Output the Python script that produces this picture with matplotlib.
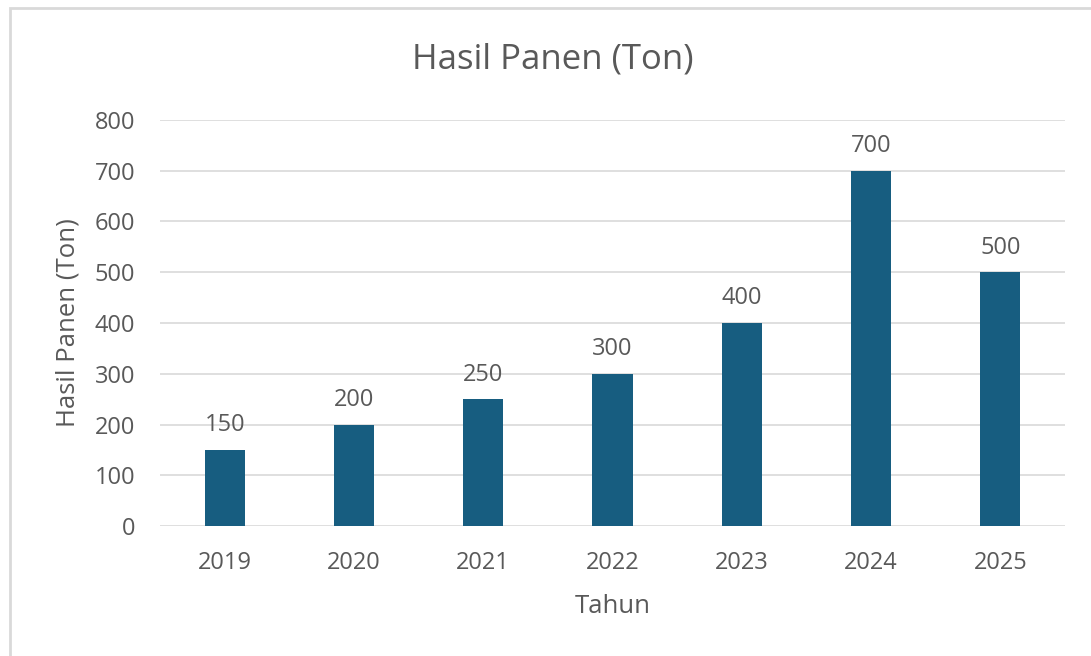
import matplotlib
matplotlib.use("Agg")
import matplotlib.pyplot as plt
from matplotlib.patches import Rectangle

years = ["2019", "2020", "2021", "2022", "2023", "2024", "2025"]
values = [150, 200, 250, 300, 400, 700, 500]
yticks = [0, 100, 200, 300, 400, 500, 600, 700, 800]

plt.rcParams['font.family'] = ['Open Sans', 'DejaVu Sans']
txt = '#595959'
bar_color = '#175d80'

fig = plt.figure(figsize=(10.91, 6.56), dpi=100)
fig.patches.append(Rectangle((10/1091, -0.01), 1.0, 1 - 8/656 + 0.01, transform=fig.transFigure,
                             facecolor='none', edgecolor='#d9d9d9', lw=2))
ax = fig.add_axes([160/1091, 1 - 526/656, 905/1091, 406/656])
x = range(len(years))
bars = ax.bar(x, values, width=0.31, color=bar_color, zorder=3)
for xi, v in zip(x, values):
    ax.annotate(str(v), (xi, v), xytext=(0, 9), textcoords='offset points',
                ha='center', va='bottom', fontsize=17, color=txt)
ax.set_xlim(-0.5, len(years) - 0.5)
ax.set_ylim(0, 800)
ax.set_yticks(yticks)
ax.set_xticks(list(x))
ax.set_xticklabels(years)
ax.grid(axis='y', color='#d9d9d9', lw=1.2, zorder=0)
for s in ax.spines.values():
    s.set_visible(False)
ax.tick_params(axis='both', length=0, labelsize=17, colors=txt)
ax.tick_params(axis='y', pad=18)
ax.tick_params(axis='x', pad=18)
ax.set_xlabel("Tahun", fontsize=18.5, color=txt, labelpad=14)
ax.set_ylabel("Hasil Panen (Ton)", fontsize=18.5, color=txt, labelpad=10)
fig.text(553/1091, 1 - 59/656, "Hasil Panen (Ton)", ha='center', va='center', fontsize=25, color=txt)
fig.savefig("out.png", dpi=100)
